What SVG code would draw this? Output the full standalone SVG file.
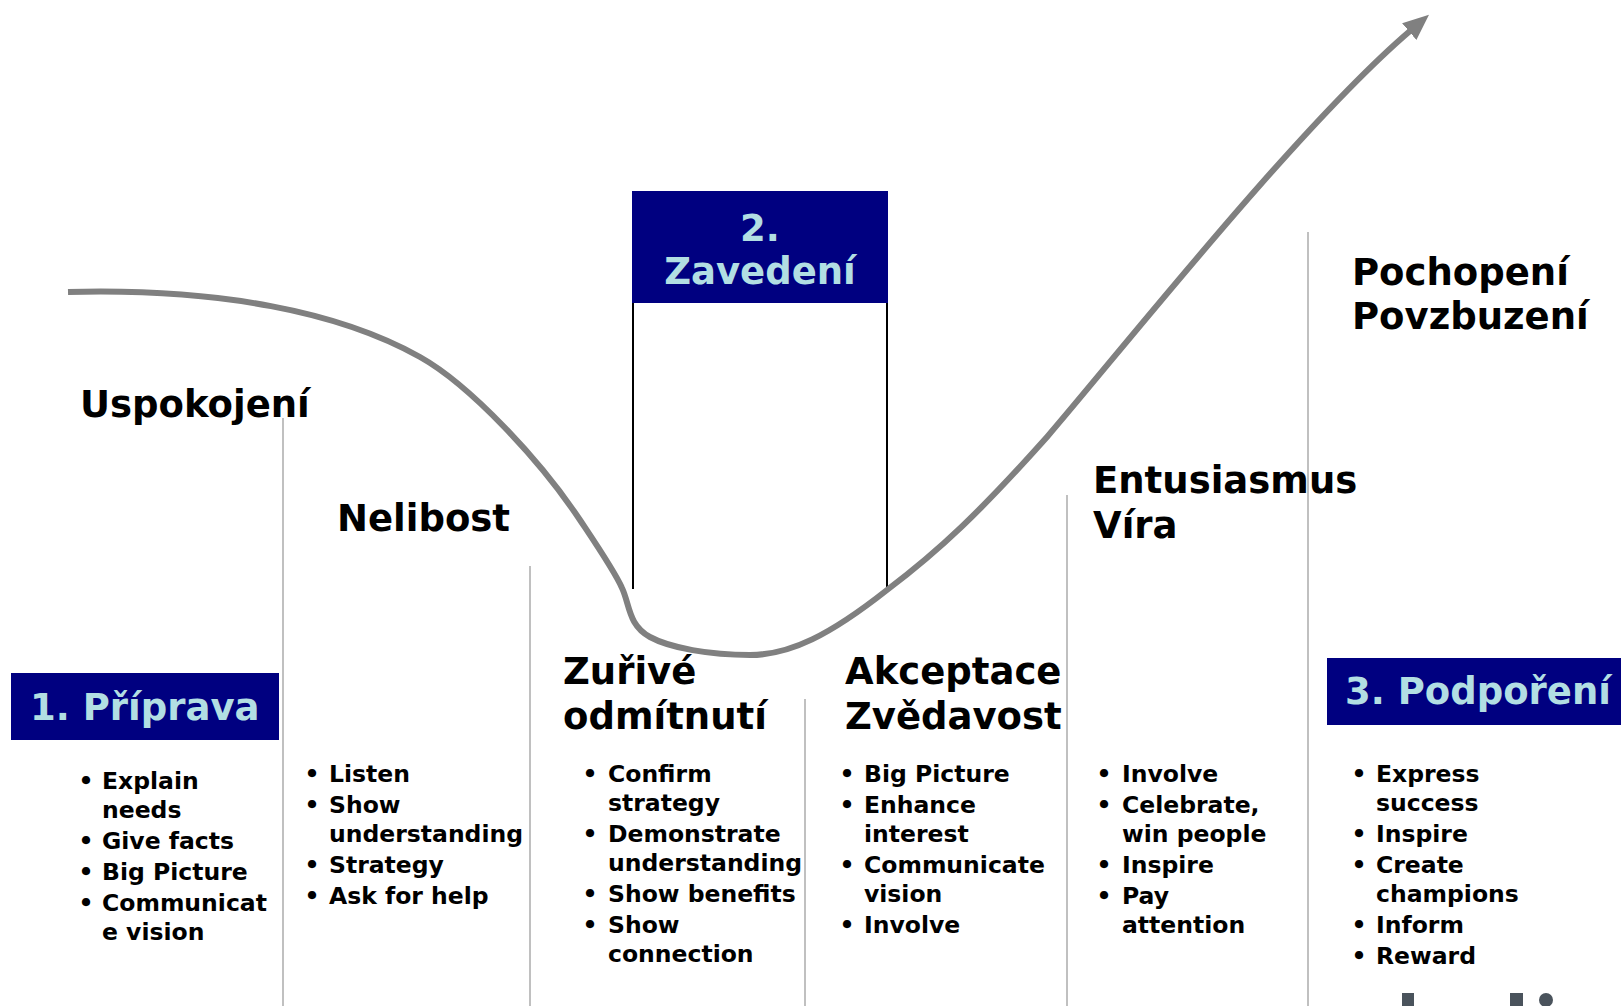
<svg xmlns="http://www.w3.org/2000/svg" width="1621" height="1006" viewBox="0 0 1621 1006">
<style>
  text { font-family: "DejaVu Sans", Verdana, sans-serif; font-weight: bold; }
  .head { font-size: 37px; fill: #000000; }
  .boxtxt { font-size: 37px; fill: #B2DEE3; }
  .item { font-size: 23.5px; fill: #000000; }
  .dot { font-size: 23.5px; fill: #000000; text-anchor: middle; }
  .box { fill: #000080; }
  .sep { stroke: #C0C0C0; stroke-width: 2; fill: none; }
  .post { stroke: #000000; stroke-width: 2; fill: none; }
  .curve { stroke: #808080; stroke-width: 6; fill: none; stroke-linejoin: round; }
  .logo { fill: #4A535C; }
</style>
<defs>
  <marker id="arrow" markerUnits="userSpaceOnUse" markerWidth="30" markerHeight="30" viewBox="0 -15 30 30" refX="1" refY="0" orient="auto">
    <polygon points="0,-11 26,0 0,11" fill="#808080"/>
  </marker>
</defs>
<rect width="1621" height="1006" fill="#ffffff"/>

<g id="separators">
  <line class="sep" x1="283" y1="418" x2="283" y2="1006"/>
  <line class="sep" x1="530" y1="566" x2="530" y2="1006"/>
  <line class="sep" x1="805" y1="699" x2="805" y2="1006"/>
  <line class="sep" x1="1067" y1="495" x2="1067" y2="1006"/>
  <line class="sep" x1="1308" y1="232" x2="1308" y2="1006"/>
</g>

<g id="connectors">
  <line class="post" x1="633" y1="302" x2="633" y2="589"/>
  <line class="post" x1="887" y1="302" x2="887" y2="589"/>
  <path class="curve" marker-end="url(#arrow)" d="M68,292 C220,288 340,312 420,357 C470,385 540,460 580,520 C600,550 615,572 622,588 C630,605 628,625 650,637 C670,648 710,655 750,655 C790,655 830,635 887,590 C940,550 980,512 1047,437 C1125,346 1300,125 1410,31"/>
</g>

<g id="phase1">
  <rect class="box" x="11" y="673" width="268" height="67"/>
  <text class="boxtxt" x="30" y="720">1. Příprava</text>
</g>

<g id="phase2">
  <rect class="box" x="632" y="191" width="256" height="112"/>
  <text class="boxtxt" x="760" y="241" text-anchor="middle">2.</text>
  <text class="boxtxt" x="760" y="284" text-anchor="middle">Zavedení</text>
</g>

<g id="phase3">
  <rect class="box" x="1327" y="658" width="294" height="67"/>
  <text class="boxtxt" x="1345" y="704">3. Podpoření</text>
</g>

<g id="stage-uspokojeni">
  <text class="head" x="80" y="417">Uspokojení</text>
  <text class="dot" x="86" y="789">•</text><text class="item" x="102" y="789">Explain</text>
  <text class="item" x="102" y="818">needs</text>
  <text class="dot" x="86" y="849">•</text><text class="item" x="102" y="849">Give facts</text>
  <text class="dot" x="86" y="880">•</text><text class="item" x="102" y="880">Big Picture</text>
  <text class="dot" x="86" y="911">•</text><text class="item" x="102" y="911">Communicat</text>
  <text class="item" x="102" y="940">e vision</text>
</g>

<g id="stage-nelibost">
  <text class="head" x="337" y="531">Nelibost</text>
  <text class="dot" x="312" y="782">•</text><text class="item" x="329" y="782">Listen</text>
  <text class="dot" x="312" y="813">•</text><text class="item" x="329" y="813">Show</text>
  <text class="item" x="329" y="842">understanding</text>
  <text class="dot" x="312" y="873">•</text><text class="item" x="329" y="873">Strategy</text>
  <text class="dot" x="312" y="904">•</text><text class="item" x="329" y="904">Ask for help</text>
</g>

<g id="stage-zurive">
  <text class="head" x="563" y="684">Zuřivé</text>
  <text class="head" x="563" y="729">odmítnutí</text>
  <text class="dot" x="590" y="782">•</text><text class="item" x="608" y="782">Confirm</text>
  <text class="item" x="608" y="811">strategy</text>
  <text class="dot" x="590" y="842">•</text><text class="item" x="608" y="842">Demonstrate</text>
  <text class="item" x="608" y="871">understanding</text>
  <text class="dot" x="590" y="902">•</text><text class="item" x="608" y="902">Show benefits</text>
  <text class="dot" x="590" y="933">•</text><text class="item" x="608" y="933">Show</text>
  <text class="item" x="608" y="962">connection</text>
</g>

<g id="stage-akceptace">
  <text class="head" x="845" y="684">Akceptace</text>
  <text class="head" x="845" y="729">Zvědavost</text>
  <text class="dot" x="847" y="782">•</text><text class="item" x="864" y="782">Big Picture</text>
  <text class="dot" x="847" y="813">•</text><text class="item" x="864" y="813">Enhance</text>
  <text class="item" x="864" y="842">interest</text>
  <text class="dot" x="847" y="873">•</text><text class="item" x="864" y="873">Communicate</text>
  <text class="item" x="864" y="902">vision</text>
  <text class="dot" x="847" y="933">•</text><text class="item" x="864" y="933">Involve</text>
</g>

<g id="stage-entusiasmus">
  <text class="head" x="1093" y="493">Entusiasmus</text>
  <text class="head" x="1093" y="538">Víra</text>
  <text class="dot" x="1104" y="782">•</text><text class="item" x="1122" y="782">Involve</text>
  <text class="dot" x="1104" y="813">•</text><text class="item" x="1122" y="813">Celebrate,</text>
  <text class="item" x="1122" y="842">win people</text>
  <text class="dot" x="1104" y="873">•</text><text class="item" x="1122" y="873">Inspire</text>
  <text class="dot" x="1104" y="904">•</text><text class="item" x="1122" y="904">Pay</text>
  <text class="item" x="1122" y="933">attention</text>
</g>

<g id="stage-pochopeni">
  <text class="head" x="1352" y="285">Pochopení</text>
  <text class="head" x="1352" y="329">Povzbuzení</text>
  <text class="dot" x="1359" y="782">•</text><text class="item" x="1376" y="782">Express</text>
  <text class="item" x="1376" y="811">success</text>
  <text class="dot" x="1359" y="842">•</text><text class="item" x="1376" y="842">Inspire</text>
  <text class="dot" x="1359" y="873">•</text><text class="item" x="1376" y="873">Create</text>
  <text class="item" x="1376" y="902">champions</text>
  <text class="dot" x="1359" y="933">•</text><text class="item" x="1376" y="933">Inform</text>
  <text class="dot" x="1359" y="964">•</text><text class="item" x="1376" y="964">Reward</text>
</g>

<g id="logo-fragment">
  <rect class="logo" x="1402" y="993" width="12" height="13"/>
  <rect class="logo" x="1510" y="993" width="13" height="13"/>
  <circle class="logo" cx="1546" cy="1000" r="7"/>
</g>
</svg>
